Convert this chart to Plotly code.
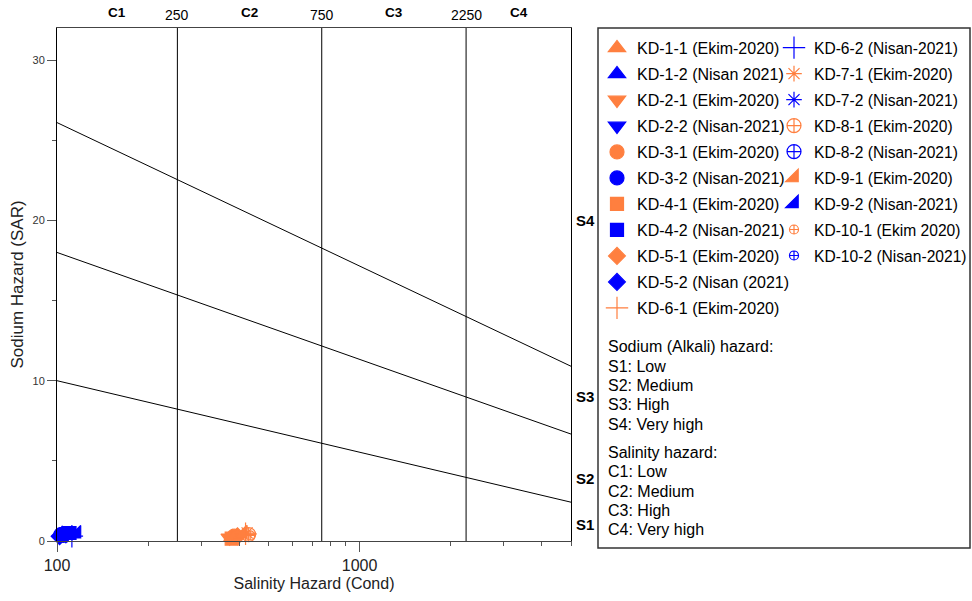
import math
import plotly.graph_objects as go

# ---------------- data ----------------
samples = ["KD-1-1 (Ekim-2020)", "KD-1-2 (Nisan 2021)", "KD-2-1 (Ekim-2020)", "KD-2-2 (Nisan-2021)",
           "KD-3-1 (Ekim-2020)", "KD-3-2 (Nisan-2021)", "KD-4-1 (Ekim-2020)", "KD-4-2 (Nisan-2021)",
           "KD-5-1 (Ekim-2020)", "KD-5-2 (Nisan (2021)", "KD-6-1 (Ekim-2020)", "KD-6-2 (Nisan-2021)",
           "KD-7-1 (Ekim-2020)", "KD-7-2 (Nisan-2021)", "KD-8-1 (Ekim-2020)", "KD-8-2 (Nisan-2021)",
           "KD-9-1 (Ekim-2020)", "KD-9-2 (Nisan-2021)", "KD-10-1 (Ekim 2020)", "KD-10-2 (Nisan-2021)"]
cond = [380, 104, 372, 107, 385, 103, 378, 110, 395, 102,
        420, 112, 425, 108, 430, 105, 410, 116, 435, 106]
sar = [0.25, 0.45, 0.2, 0.35, 0.3, 0.4, 0.15, 0.5, 0.3, 0.3,
       0.45, 0.3, 0.5, 0.4, 0.4, 0.35, 0.45, 0.45, 0.35, 0.3]

# boundary lines (SAR at Cond = 100 and 5000)
boundary_x = [100, 5000]
boundary_sar = [[10.0, 2.42], [18.0, 6.67], [26.1, 10.9]]
class_limits = [250, 750, 2250]
c_labels = ["C1", "C2", "C3", "C4"]
s_labels = ["S4", "S3", "S2", "S1"]
s_label_y = [20, 9, 3.9, 1]
x_ticks = [100, 1000]
x_minor = [200, 300, 400, 500, 600, 700, 800, 900, 2000, 3000, 4000, 5000]
y_ticks = [0, 10, 20, 30]
y_minor = [5, 15, 25]
x_lo, x_hi = 100, 5000
y_lo, y_hi = 0, 32

ORANGE = "#FF7F3F"
BLUE = "#0000FF"
symbols = ["triangle-up", "triangle-up", "triangle-down", "triangle-down", "circle", "circle",
           "square", "square", "diamond", "diamond", "cross-thin-open", "cross-thin-open",
           "asterisk-open", "asterisk-open", "circle-cross-open", "circle-cross-open",
           "triangle-se", "triangle-se", "circle-cross-open", "circle-cross-open"]
sizes = [15, 15, 15, 15, 14, 14, 13, 13, 13, 13, 16, 16, 13, 13, 14, 14, 14, 14, 9, 9]

FONT = "Liberation Sans, Arial, sans-serif"
fig = go.Figure()

# boundary lines
for ys in boundary_sar:
    fig.add_trace(go.Scatter(x=boundary_x, y=ys, mode="lines", line=dict(color="black", width=1),
                             showlegend=False, hoverinfo="skip"))
for cl in class_limits:
    fig.add_trace(go.Scatter(x=[cl, cl], y=[y_lo, y_hi], mode="lines", line=dict(color="black", width=1),
                             showlegend=False, hoverinfo="skip"))

# samples
for i, name in enumerate(samples):
    col = ORANGE if i % 2 == 0 else BLUE
    legend = "legend" if i < 11 else "legend2"
    fig.add_trace(go.Scatter(
        x=[cond[i]], y=[sar[i]], mode="markers", name=name,
        marker=dict(symbol=symbols[i], size=sizes[i], color=col,
                    line=dict(color=col, width=1.2)),
        legend=legend, legendgroup=name, cliponaxis=False))

annotations = []
# top labels
bounds = [x_lo] + class_limits + [x_hi]
for k, lab in enumerate(c_labels):
    gm = math.sqrt(bounds[k] * bounds[k + 1])
    annotations.append(dict(x=math.log10(gm), y=1.0, xref="x", yref="paper", text="<b>%s</b>" % lab,
                            showarrow=False, yanchor="middle", yshift=16,
                            font=dict(size=13.5, color="black", family=FONT)))
for cl in class_limits:
    annotations.append(dict(x=math.log10(cl), y=1.0, xref="x", yref="paper", text=str(cl),
                            showarrow=False, yanchor="middle", yshift=13,
                            font=dict(size=14, color="black", family=FONT)))
for lab, yv in zip(s_labels, s_label_y):
    annotations.append(dict(x=1.0, y=yv, xref="paper", yref="y", text="<b>%s</b>" % lab,
                            showarrow=False, xanchor="left", xshift=3,
                            font=dict(size=15, color="black", family=FONT)))

# legend text block
info_lines = [("Sodium (Alkali) hazard:", 346), ("S1: Low", 366), ("S2: Medium", 385), ("S3: High", 404),
              ("S4: Very high", 424), ("Salinity hazard:", 452), ("C1: Low", 471), ("C2: Medium", 491),
              ("C3: High", 510), ("C4: Very high", 529)]
L, T, W, H = 57, 28, 514, 513
def px_x(px):
    return (px - L) / W
def px_y(py):
    return 1 - (py - T) / H
for txt, py in info_lines:
    annotations.append(dict(x=px_x(606), y=px_y(py), xref="paper", yref="paper", text=txt,
                            showarrow=False, xanchor="left", yanchor="middle",
                            font=dict(size=16, color="black", family=FONT)))

fig.update_layout(
    width=972, height=601,
    margin=dict(l=L, r=972 - L - W, t=T, b=601 - T - H, autoexpand=False),
    paper_bgcolor="white", plot_bgcolor="white",
    font=dict(family=FONT, color="black"),
    showlegend=True,
    annotations=annotations,
    shapes=[dict(type="rect", xref="paper", yref="paper", x0=px_x(598), x1=px_x(970),
                 y0=px_y(548), y1=px_y(28), line=dict(color="#333", width=1.5))],
    xaxis=dict(type="log", range=[math.log10(x_lo), math.log10(x_hi)], tickvals=x_ticks,
               ticktext=[str(v) for v in x_ticks], ticks="outside", ticklen=10, tickcolor="#555",
               showgrid=False, zeroline=False, showline=True, linecolor="#444", linewidth=1, mirror=True,
               tickfont=dict(size=16, color="#222"), automargin=False,
               minor=dict(tickvals=x_minor, ticks="outside", ticklen=4, tickcolor="#555", showgrid=False),
               title=dict(text="Salinity Hazard (Cond)", font=dict(size=16, color="#222"), standoff=4)),
    yaxis=dict(range=[y_lo, y_hi], tickvals=y_ticks, ticks="outside", ticklen=9, tickcolor="#555",
               showgrid=False, zeroline=False, showline=True, linecolor="black", linewidth=1, mirror=True,
               tickfont=dict(size=11, color="#333"), automargin=False,
               minor=dict(tickvals=y_minor, ticks="outside", ticklen=4, tickcolor="#555", showgrid=False),
               title=dict(text="Sodium Hazard (SAR)", font=dict(size=17, color="#222"), standoff=4)),
    legend=dict(x=px_x(597), y=px_y(31), xanchor="left", yanchor="top", orientation="v",
                bgcolor="rgba(0,0,0,0)", borderwidth=0, tracegroupgap=2.2,
                font=dict(size=16, color="black", family=FONT)),
    legend2=dict(x=px_x(774), y=px_y(31), xanchor="left", yanchor="top", orientation="v",
                 bgcolor="rgba(0,0,0,0)", borderwidth=0, tracegroupgap=2.7,
                 font=dict(size=15.6, color="black", family=FONT)),
)

fig.write_html("out.html", config={"displayModeBar": False},
               post_script="document.body.style.margin='0px';")
